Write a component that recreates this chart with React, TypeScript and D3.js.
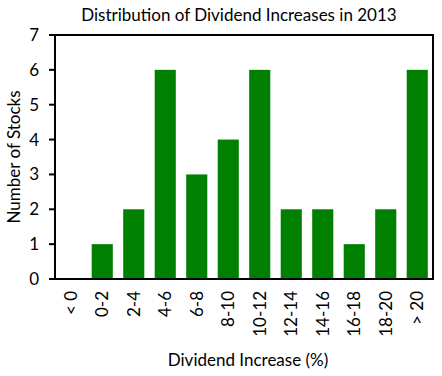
import React from "react";
import * as d3 from "d3";

const categories = ["< 0", "0-2", "2-4", "4-6", "6-8", "8-10", "10-12", "12-14", "14-16", "16-18", "18-20", "> 20"];
const counts = [0, 1, 2, 6, 3, 4, 6, 2, 2, 1, 2, 6];
const yTicks = [0, 1, 2, 3, 4, 5, 6, 7];

const W = 442, H = 376;
const M = { left: 55, right: 9, top: 35, bottom: 97 };
const FONT = "Lato, 'Open Sans', sans-serif";

export default function App() {
  const x = d3.scaleBand<string>().domain(categories).range([M.left, W - M.right]).paddingInner(0.33).paddingOuter(0.165);
  const y = d3.scaleLinear().domain([0, 7]).range([H - M.bottom, M.top]);
  const x0 = M.left, x1 = W - M.right, y0 = y(0), y1 = y(7);
  return (
    <svg width={W} height={H} style={{ position: "absolute", left: 0, top: 0, background: "#fff" }} fontFamily={FONT}>
      <rect x={0} y={0} width={W} height={H} fill="#fff" />
      <text x={239} y={21} textAnchor="middle" fontSize={17} fill="#000">Distribution of Dividend Increases in 2013</text>
      {categories.map((c, i) => (
        <rect key={c} x={x(c)} y={y(counts[i])} width={x.bandwidth()} height={y(0) - y(counts[i])} fill="#008000" />
      ))}
      <rect x={x0} y={y1} width={x1 - x0} height={y0 - y1} fill="none" stroke="#000" strokeWidth={2} />
      {yTicks.map(t => (
        <g key={t}>
          <line x1={x0 - 6} x2={x0} y1={y(t)} y2={y(t)} stroke="#000" strokeWidth={2} />
          <text x={39} y={y(t)} dy="0.35em" textAnchor="end" fontSize={17} fill="#000">{t}</text>
        </g>
      ))}
      {categories.map(c => {
        const cx = (x(c) as number) + x.bandwidth() / 2;
        return (
          <text key={c} transform={`translate(${cx},${y0 + 12}) rotate(-90)`} textAnchor="end" dy="0.35em" fontSize={17} fill="#000">{c}</text>
        );
      })}
      <text transform={`translate(14,${(y0 + y1) / 2}) rotate(-90)`} textAnchor="middle" dy="0.35em" fontSize={17} fill="#000">Number of Stocks</text>
      <text x={248} y={360} textAnchor="middle" dy="0.35em" fontSize={17} fill="#000">Dividend Increase (%)</text>
    </svg>
  );
}
